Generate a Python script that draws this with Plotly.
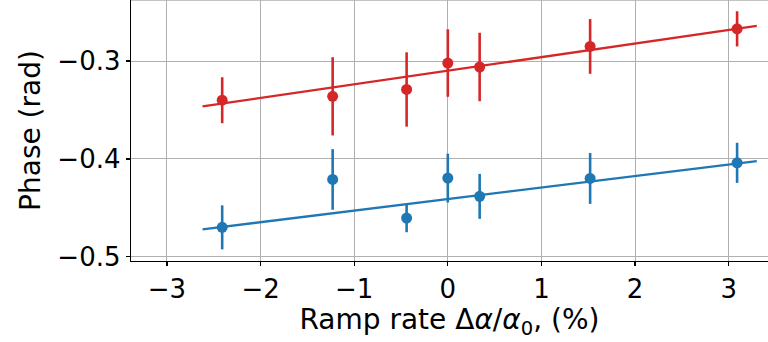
import plotly.graph_objects as go

# Data
ramp = [-2.41, -1.23, -0.44, 0.0, 0.34, 1.52, 3.09]
red_phase = [-0.340, -0.336, -0.329, -0.302, -0.306, -0.285, -0.267]
red_err = [0.0235, 0.040, 0.038, 0.0345, 0.035, 0.028, 0.018]
blue_phase = [-0.470, -0.421, -0.4605, -0.4196, -0.4383, -0.420, -0.404]
blue_err = [0.0225, 0.031, 0.0145, 0.025, 0.023, 0.026, 0.0205]

fit_x = [-2.62, 3.30]
red_fit = [-0.3463, -0.2639]
blue_fit = [-0.4720, -0.4022]

xticks = [-3, -2, -1, 0, 1, 2, 3]
yticks = [-0.5, -0.4, -0.3]

RED = "#d62728"
BLUE = "#1f77b4"
FONT = "DejaVu Sans"

fig = go.Figure()
for fit, col in [(red_fit, RED), (blue_fit, BLUE)]:
    fig.add_trace(go.Scatter(x=fit_x, y=fit, mode="lines",
                             line=dict(color=col, width=2.3), showlegend=False))
for ph, er, col in [(red_phase, red_err, RED), (blue_phase, blue_err, BLUE)]:
    fig.add_trace(go.Scatter(x=ramp, y=ph, mode="markers",
                             marker=dict(color=col, size=11, line=dict(width=0)),
                             error_y=dict(type="data", array=er, visible=True,
                                          color=col, thickness=2.6, width=0),
                             showlegend=False))

def fmt(v):
    s = f"{abs(v):g}"
    return ("\u2212" + s) if v < 0 else s

fig.update_layout(
    width=768, height=342,
    margin=dict(l=131, r=0, t=0, b=81),
    paper_bgcolor="white", plot_bgcolor="white",
    font=dict(family=FONT, size=26, color="black"),
    shapes=[dict(type="line", xref="paper", yref="paper", x0=0, x1=1, y0=1, y1=1,
                 line=dict(color="#b0b0b0", width=1.5))],
)
fig.update_xaxes(
    range=[-3.384, 3.42], tickvals=xticks, ticktext=[fmt(v) for v in xticks],
    showgrid=True, gridcolor="#b0b0b0", gridwidth=1,
    showline=True, linecolor="black", linewidth=1.3,
    ticks="outside", ticklen=4, tickwidth=1.3, tickcolor="black",
    zeroline=False, automargin=False,
    title=dict(text="Ramp rate \u0394<i>\u03b1</i>/<i>\u03b1</i><sub>0</sub>, (%)",
               font=dict(size=28), standoff=4),
)
fig.update_yaxes(
    range=[-0.5044, -0.2375], tickvals=yticks, ticktext=[fmt(v) for v in yticks],
    showgrid=True, gridcolor="#b0b0b0", gridwidth=1,
    showline=True, linecolor="black", linewidth=1.3,
    ticks="outside", ticklen=4, tickwidth=1.3, tickcolor="black",
    zeroline=False, automargin=False,
    title=dict(text="Phase (rad)", font=dict(size=28), standoff=8),
)

fig.write_html("out.html",
               config={"displayModeBar": False, "staticPlot": True},
               post_script="document.body.style.margin='0';document.body.style.overflow='hidden';")
